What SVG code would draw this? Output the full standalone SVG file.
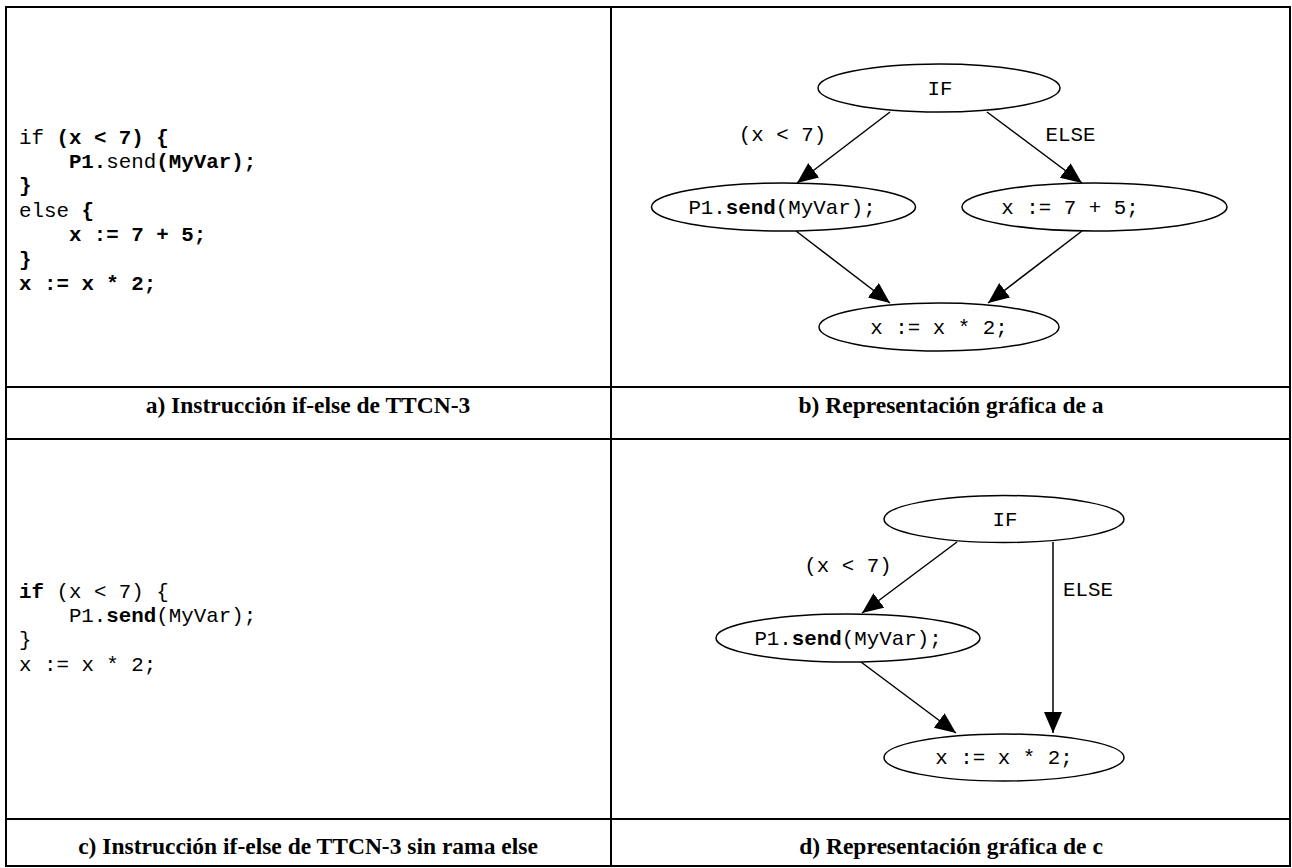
<svg xmlns="http://www.w3.org/2000/svg" width="1292" height="868" viewBox="0 0 1292 868">
<style>
.frame{fill:none;stroke:#000;stroke-width:2}
.grid{stroke:#000;stroke-width:2}
.code{font-family:"Liberation Mono","Courier New",monospace;font-size:20.8px;fill:#000;white-space:pre}
.b{font-weight:bold}
.cap{font-family:"Liberation Serif","Times New Roman",serif;font-size:23.5px;font-weight:bold;text-anchor:middle;fill:#000}
.node ellipse{fill:#fff;stroke:#000;stroke-width:1.5}
.lbl{font-family:"Liberation Mono","Courier New",monospace;font-size:20.8px;fill:#000;text-anchor:middle}
.edge{stroke:#000;stroke-width:1.5;fill:none;marker-end:url(#arr)}
</style>
<defs>
<marker id="arr" markerUnits="userSpaceOnUse" markerWidth="24" markerHeight="20" refX="21" refY="9" orient="auto">
<path d="M0,0 L21,9 L0,18 z" fill="#000"/>
</marker>
</defs>
<rect width="1292" height="868" fill="#fff"/>
<g id="table">
<rect class="frame" x="6" y="7" width="1284" height="859"/>
<line class="grid" x1="611" y1="7" x2="611" y2="866"/>
<line class="grid" x1="6" y1="387" x2="1290" y2="387"/>
<line class="grid" x1="6" y1="439" x2="1290" y2="439"/>
<line class="grid" x1="6" y1="819" x2="1290" y2="819"/>
</g>
<g id="code-a" class="code">
<text x="19" y="143.6" xml:space="preserve">if<tspan class="b"> (x &lt; 7) {</tspan></text>
<text x="68.9" y="168" xml:space="preserve"><tspan class="b">P1.</tspan>send<tspan class="b">(MyVar);</tspan></text>
<text x="19" y="192.4" class="b">}</text>
<text x="19" y="216.8" xml:space="preserve">else<tspan class="b"> {</tspan></text>
<text x="68.9" y="241.2" class="b" xml:space="preserve">x := 7 + 5;</text>
<text x="19" y="265.6" class="b">}</text>
<text x="19" y="290" class="b" xml:space="preserve">x := x * 2;</text>
</g>
<g id="code-c" class="code">
<text x="19" y="597.5" xml:space="preserve"><tspan class="b">if</tspan> (x &lt; 7) {</text>
<text x="68.9" y="621.9" xml:space="preserve">P1.<tspan class="b">send</tspan>(MyVar);</text>
<text x="19" y="646.3">}</text>
<text x="19" y="670.7" xml:space="preserve">x := x * 2;</text>
</g>
<g id="captions">
<text class="cap" x="308" y="413">a) Instrucción if-else de TTCN-3</text>
<text class="cap" x="951" y="413">b) Representación gráfica de a</text>
<text class="cap" x="308" y="854">c) Instrucción if-else de TTCN-3 sin rama else</text>
<text class="cap" x="951" y="854">d) Representación gráfica de c</text>
</g>
<g id="connectors">
<line class="edge" x1="890" y1="112" x2="797" y2="183"/>
<line class="edge" x1="987" y1="112" x2="1082" y2="183"/>
<line class="edge" x1="796" y1="231" x2="890" y2="303"/>
<line class="edge" x1="1082" y1="231" x2="988" y2="303"/>
<line class="edge" x1="957" y1="542" x2="862" y2="613"/>
<line class="edge" x1="1053" y1="542" x2="1053" y2="733"/>
<line class="edge" x1="861" y1="662" x2="956" y2="733"/>
<text class="lbl" x="782.5" y="141">(x &lt; 7)</text>
<text class="lbl" x="1070.5" y="141">ELSE</text>
<text class="lbl" x="848" y="572">(x &lt; 7)</text>
<text class="lbl" x="1088" y="596">ELSE</text>
</g>
<g id="b-if" class="node"><ellipse cx="939" cy="88" rx="121" ry="24"/><text class="lbl" x="940" y="94.5">IF</text></g>
<g id="b-send" class="node"><ellipse cx="783.5" cy="207" rx="132" ry="24"/><text class="lbl" x="782" y="213.5">P1.<tspan class="b">send</tspan>(MyVar);</text></g>
<g id="b-x75" class="node"><ellipse cx="1094.5" cy="207" rx="132.5" ry="24"/><text class="lbl" x="1070" y="213.5">x := 7 + 5;</text></g>
<g id="b-x2" class="node"><ellipse cx="939" cy="327" rx="120" ry="24"/><text class="lbl" x="939" y="333.5">x := x * 2;</text></g>
<g id="d-if" class="node"><ellipse cx="1004" cy="519" rx="120" ry="23.5"/><text class="lbl" x="1005" y="525.5">IF</text></g>
<g id="d-send" class="node"><ellipse cx="848" cy="638" rx="132" ry="24"/><text class="lbl" x="848" y="644.5">P1.<tspan class="b">send</tspan>(MyVar);</text></g>
<g id="d-x2" class="node"><ellipse cx="1004" cy="757.5" rx="120" ry="23.5"/><text class="lbl" x="1004" y="764">x := x * 2;</text></g>
</svg>
